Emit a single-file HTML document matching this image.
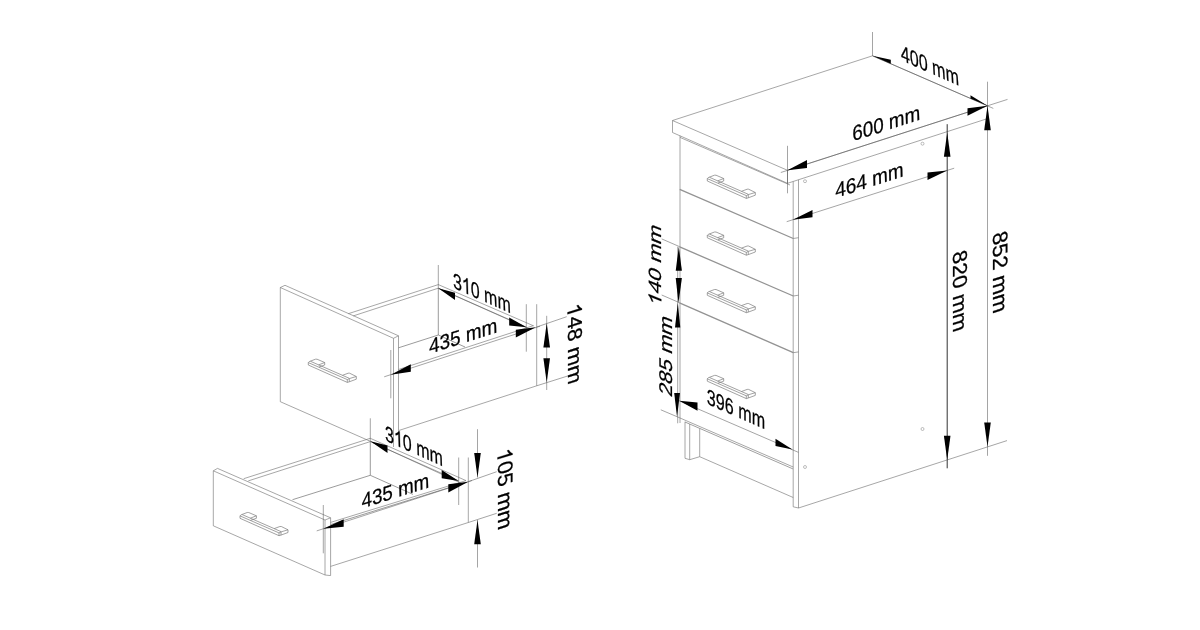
<!DOCTYPE html>
<html><head><meta charset="utf-8"><title>Dimensions</title>
<style>
html,body{margin:0;padding:0;background:#fff;}
body{width:1200px;height:630px;overflow:hidden;}
svg{display:block}
text{font-family:"Liberation Sans",sans-serif;fill:#000;stroke:#000;stroke-width:0.25px;white-space:pre;}
.g1{fill:#000;stroke:#000;stroke-width:25.6;}
</style></head><body>
<svg width="1200" height="630" viewBox="0 0 1200 630">
<rect width="1200" height="630" fill="#fff"/>
<g opacity="0.999">
<path d="M672.5 120.5 L787.5 170.3 L987.5 105.8 L872.5 55.8 Z" stroke="#707070" stroke-width="0.62" fill="none" stroke-linejoin="round"/>
<path d="M672.5 120.5 L672.5 132.5 L787.5 183.3 L787.5 170.3" stroke="#707070" stroke-width="0.62" fill="none" stroke-linejoin="round"/>
<path d="M787.5 183.3 L987.5 118.6" stroke="#707070" stroke-width="0.62" fill="none" stroke-linejoin="round"/>
<line x1="680.0" y1="135.7" x2="680.0" y2="423" stroke="#707070" stroke-width="0.62"/>
<line x1="680" y1="137.4" x2="790" y2="185" stroke="#707070" stroke-width="0.62"/>
<line x1="793.2" y1="181.5" x2="793.2" y2="506.8" stroke="#707070" stroke-width="0.62"/>
<line x1="798.5" y1="179.8" x2="798.5" y2="508" stroke="#707070" stroke-width="0.62"/>
<line x1="793.2" y1="506.8" x2="798.5" y2="508" stroke="#707070" stroke-width="0.62"/>
<line x1="798.5" y1="508" x2="987.5" y2="446.9" stroke="#707070" stroke-width="0.62"/>
<line x1="679.7" y1="189.4" x2="793.3" y2="238.5" stroke="#939393" stroke-width="1.35"/>
<line x1="793.3" y1="238.5" x2="798.5" y2="237.7" stroke="#707070" stroke-width="0.62"/>
<line x1="679.7" y1="246.9" x2="793.3" y2="296.0" stroke="#939393" stroke-width="1.35"/>
<line x1="793.3" y1="296.0" x2="798.5" y2="295.2" stroke="#707070" stroke-width="0.62"/>
<line x1="679.5" y1="302.9" x2="793.3" y2="352.7" stroke="#939393" stroke-width="1.35"/>
<line x1="793.3" y1="352.7" x2="798.5" y2="351.9" stroke="#707070" stroke-width="0.62"/>
<line x1="677" y1="416.7" x2="793.2" y2="467" stroke="#707070" stroke-width="0.62"/>
<line x1="685" y1="422.0" x2="793.2" y2="469.0" stroke="#a0a0a0" stroke-width="1.0"/>
<line x1="685" y1="421.7" x2="685" y2="458.3" stroke="#707070" stroke-width="0.62"/>
<line x1="689.7" y1="424" x2="689.7" y2="459.7" stroke="#707070" stroke-width="0.62"/>
<line x1="699.7" y1="428.5" x2="699.7" y2="456.7" stroke="#707070" stroke-width="0.62"/>
<path d="M685 458.3 L689.7 459.7 L699.7 456.7" stroke="#707070" stroke-width="0.62" fill="none" stroke-linejoin="round"/>
<line x1="699.7" y1="456.7" x2="793.2" y2="497.5" stroke="#707070" stroke-width="0.62"/>
<circle cx="805" cy="181.2" r="1.5" fill="none" stroke="#707070" stroke-width="0.45"/>
<circle cx="922.5" cy="143.7" r="1.5" fill="none" stroke="#707070" stroke-width="0.45"/>
<circle cx="805" cy="467" r="1.5" fill="none" stroke="#707070" stroke-width="0.45"/>
<circle cx="922.5" cy="429" r="1.5" fill="none" stroke="#707070" stroke-width="0.45"/>
<path d="M707.3 178.6 L746.3 195.6 L746.3 198.4 L707.3 181.0 Z" stroke="#7a7a7a" stroke-width="0.7" fill="none" stroke-linejoin="round"/>
<path d="M707.3 178.6 L708.2 177.6 L714.5 175.2 L716 175.2 L723.7 178.5 L723.7 181.0 L718 183.0" stroke="#7a7a7a" stroke-width="0.7" fill="none" stroke-linejoin="round"/>
<path d="M723.7 178.5 L717.6 180.9" stroke="#7a7a7a" stroke-width="0.7" fill="none" stroke-linejoin="round"/>
<path d="M709.5 177.3 L748.3 194.3" stroke="#7a7a7a" stroke-width="0.7" fill="none" stroke-linejoin="round"/>
<path d="M741.5 191.3 L747.2 189.2 L748.6 189.2 L755.3 192.5 L755.3 195.2 L748.3 197.8 L746.3 198.4" stroke="#7a7a7a" stroke-width="0.7" fill="none" stroke-linejoin="round"/>
<path d="M755.3 192.5 L748.3 194.6 L746.3 195.6" stroke="#7a7a7a" stroke-width="0.7" fill="none" stroke-linejoin="round"/>
<path d="M748.3 194.6 L748.3 197.8" stroke="#7a7a7a" stroke-width="0.7" fill="none" stroke-linejoin="round"/>
<path d="M707.3 235.4 L746.3 252.4 L746.3 255.2 L707.3 237.8 Z" stroke="#7a7a7a" stroke-width="0.7" fill="none" stroke-linejoin="round"/>
<path d="M707.3 235.4 L708.2 234.4 L714.5 232.0 L716 232.0 L723.7 235.3 L723.7 237.8 L718 239.8" stroke="#7a7a7a" stroke-width="0.7" fill="none" stroke-linejoin="round"/>
<path d="M723.7 235.3 L717.6 237.7" stroke="#7a7a7a" stroke-width="0.7" fill="none" stroke-linejoin="round"/>
<path d="M709.5 234.1 L748.3 251.1" stroke="#7a7a7a" stroke-width="0.7" fill="none" stroke-linejoin="round"/>
<path d="M741.5 248.1 L747.2 246.0 L748.6 246.0 L755.3 249.3 L755.3 252.0 L748.3 254.6 L746.3 255.2" stroke="#7a7a7a" stroke-width="0.7" fill="none" stroke-linejoin="round"/>
<path d="M755.3 249.3 L748.3 251.4 L746.3 252.4" stroke="#7a7a7a" stroke-width="0.7" fill="none" stroke-linejoin="round"/>
<path d="M748.3 251.4 L748.3 254.6" stroke="#7a7a7a" stroke-width="0.7" fill="none" stroke-linejoin="round"/>
<path d="M707.3 292.9 L746.3 309.9 L746.3 312.7 L707.3 295.3 Z" stroke="#7a7a7a" stroke-width="0.7" fill="none" stroke-linejoin="round"/>
<path d="M707.3 292.9 L708.2 291.9 L714.5 289.5 L716 289.5 L723.7 292.8 L723.7 295.3 L718 297.3" stroke="#7a7a7a" stroke-width="0.7" fill="none" stroke-linejoin="round"/>
<path d="M723.7 292.8 L717.6 295.2" stroke="#7a7a7a" stroke-width="0.7" fill="none" stroke-linejoin="round"/>
<path d="M709.5 291.6 L748.3 308.6" stroke="#7a7a7a" stroke-width="0.7" fill="none" stroke-linejoin="round"/>
<path d="M741.5 305.6 L747.2 303.5 L748.6 303.5 L755.3 306.8 L755.3 309.5 L748.3 312.1 L746.3 312.7" stroke="#7a7a7a" stroke-width="0.7" fill="none" stroke-linejoin="round"/>
<path d="M755.3 306.8 L748.3 308.9 L746.3 309.9" stroke="#7a7a7a" stroke-width="0.7" fill="none" stroke-linejoin="round"/>
<path d="M748.3 308.9 L748.3 312.1" stroke="#7a7a7a" stroke-width="0.7" fill="none" stroke-linejoin="round"/>
<path d="M707.3 378.8 L746.3 395.8 L746.3 398.6 L707.3 381.2 Z" stroke="#7a7a7a" stroke-width="0.7" fill="none" stroke-linejoin="round"/>
<path d="M707.3 378.8 L708.2 377.8 L714.5 375.4 L716 375.4 L723.7 378.7 L723.7 381.2 L718 383.2" stroke="#7a7a7a" stroke-width="0.7" fill="none" stroke-linejoin="round"/>
<path d="M723.7 378.7 L717.6 381.1" stroke="#7a7a7a" stroke-width="0.7" fill="none" stroke-linejoin="round"/>
<path d="M709.5 377.5 L748.3 394.5" stroke="#7a7a7a" stroke-width="0.7" fill="none" stroke-linejoin="round"/>
<path d="M741.5 391.5 L747.2 389.4 L748.6 389.4 L755.3 392.7 L755.3 395.4 L748.3 398.0 L746.3 398.6" stroke="#7a7a7a" stroke-width="0.7" fill="none" stroke-linejoin="round"/>
<path d="M755.3 392.7 L748.3 394.8 L746.3 395.8" stroke="#7a7a7a" stroke-width="0.7" fill="none" stroke-linejoin="round"/>
<path d="M748.3 394.8 L748.3 398.0" stroke="#7a7a7a" stroke-width="0.7" fill="none" stroke-linejoin="round"/>
<line x1="872.5" y1="32" x2="872.5" y2="55.8" stroke="#4a4a4a" stroke-width="0.5"/>
<line x1="872.5" y1="55.8" x2="993.3" y2="108.4" stroke="#4a4a4a" stroke-width="0.5"/>
<line x1="987.5" y1="81.7" x2="987.5" y2="455.8" stroke="#4a4a4a" stroke-width="0.5"/>
<line x1="987.5" y1="105.8" x2="1007.5" y2="99.4" stroke="#4a4a4a" stroke-width="0.5"/>
<line x1="780.8" y1="172.5" x2="987.5" y2="105.8" stroke="#4a4a4a" stroke-width="0.5"/>
<line x1="787.5" y1="145.8" x2="787.5" y2="193.3" stroke="#4a4a4a" stroke-width="0.5"/>
<line x1="786.7" y1="221.7" x2="954.2" y2="168.2" stroke="#4a4a4a" stroke-width="0.5"/>
<line x1="947.2" y1="124.2" x2="947.2" y2="468.3" stroke="#333" stroke-width="1.0"/>
<line x1="987.5" y1="446.9" x2="1007" y2="440.6" stroke="#4a4a4a" stroke-width="0.5"/>
<line x1="661.7" y1="238.9" x2="679.7" y2="246.7" stroke="#4a4a4a" stroke-width="0.5"/>
<line x1="661.7" y1="295.0" x2="679.5" y2="302.7" stroke="#4a4a4a" stroke-width="0.5"/>
<line x1="660.8" y1="409.8" x2="677" y2="416.7" stroke="#4a4a4a" stroke-width="0.5"/>
<line x1="677.7" y1="246.7" x2="677.7" y2="423.3" stroke="#4a4a4a" stroke-width="0.5"/>
<line x1="679.2" y1="400.8" x2="798.3" y2="452.3" stroke="#4a4a4a" stroke-width="0.5"/>
<path d="M872.5 55.8 L890.8 59.7 L890.8 63.8 Z" fill="#000" stroke="none"/>
<path d="M987.5 105.8 L970.5 95.2 L970.5 98.4 Z" fill="#000" stroke="none"/>
<path d="M987.5 105.8 L967.5 108.3 L967.5 115.8 Z" fill="#000" stroke="none"/>
<path d="M787.5 170.3 L807 160 L807 168 Z" fill="#000" stroke="none"/>
<path d="M792.8 219.7 L812.5 210 L812.5 217.2 Z" fill="#000" stroke="none"/>
<path d="M947.2 170.5 L927.5 172.5 L927.5 180 Z" fill="#000" stroke="none"/>
<path d="M987.5 105.8 L984.2 130.3 L990.8 130.3 Z" fill="#000" stroke="none"/>
<path d="M947.2 132.5 L943.9 156.7 L950.5 156.7 Z" fill="#000" stroke="none"/>
<path d="M947.2 460 L943.9 435.8 L950.5 435.8 Z" fill="#000" stroke="none"/>
<path d="M987.5 446.7 L984.2 422.5 L990.8 422.5 Z" fill="#000" stroke="none"/>
<path d="M678.8 246.7 L675.7 270.8 L681.9 270.8 Z" fill="#000" stroke="none"/>
<path d="M678.5 302.9 L675.7 278 L681.9 278 Z" fill="#000" stroke="none"/>
<path d="M677.8 302.9 L675 327.5 L680.3 327.5 Z" fill="#000" stroke="none"/>
<path d="M677 416.7 L674.2 393 L680 393 Z" fill="#000" stroke="none"/>
<path d="M679.2 400.8 L697.5 402.5 L697.5 410.8 Z" fill="#000" stroke="none"/>
<path d="M792.5 449.6 L775.5 438.7 L775.5 445.9 Z" fill="#000" stroke="none"/>
<g transform="matrix(0.8028 0.3549 0.0711 1.1167 901.30 60.30)"><text x="0.000" y="0" font-size="20" xml:space="preserve">400 mm</text></g>
<g transform="matrix(0.9387 -0.3020 0.0285 1.0527 852.55 141.34)"><text x="0.000" y="0" font-size="20" xml:space="preserve">600 mm</text></g>
<g transform="matrix(0.9448 -0.3017 0.0285 1.0527 835.42 198.02)"><text x="0.000" y="0" font-size="20" xml:space="preserve">464 mm</text></g>
<g transform="matrix(0.0000 1.1123 -1.0100 0.3201 953.30 253.02)"><text x="0.000" y="0" font-size="20" xml:space="preserve">820 mm</text></g>
<g transform="matrix(0.0000 1.1178 -1.0456 0.3272 993.30 233.94)"><text x="0.000" y="0" font-size="20" xml:space="preserve">852 mm</text></g>
<g transform="matrix(0.0000 -1.1155 0.8891 0.3557 661.30 307.50)"><path class="g1" transform="translate(0.000 0) scale(0.009765625 -0.009765625)" d="M763 0L583 0L583 1147Q518 1085 412.5 1023Q307 961 223 930L223 1104Q374 1175 487 1276Q600 1377 647 1472L763 1472Z"/><text x="11.123" y="0" font-size="20" xml:space="preserve">40 mm</text></g>
<g transform="matrix(0.0000 -1.0989 0.9176 0.3699 672.20 397.80)"><text x="0.000" y="0" font-size="20" xml:space="preserve">285 mm</text></g>
<g transform="matrix(0.8077 0.3547 -0.0000 1.1025 706.85 403.72)"><text x="0.000" y="0" font-size="20" xml:space="preserve">396 mm</text></g>
<path d="M280.3 287.5 L393.5 338.3 L393.5 447" stroke="#707070" stroke-width="0.62" fill="none" stroke-linejoin="round"/>
<path d="M280.3 287.5 L280.3 401.7 L370.3 441.3" stroke="#707070" stroke-width="0.62" fill="none" stroke-linejoin="round"/>
<path d="M280.3 287.5 L285 285.3 L398.5 335.8 L393.5 338.3" stroke="#707070" stroke-width="0.62" fill="none" stroke-linejoin="round"/>
<line x1="398.5" y1="335.8" x2="398.5" y2="430.6" stroke="#707070" stroke-width="0.62"/>
<line x1="348.3" y1="313.7" x2="438.3" y2="284.6" stroke="#707070" stroke-width="0.62"/>
<line x1="353.3" y1="315.9" x2="438.3" y2="288.2" stroke="#707070" stroke-width="0.62"/>
<line x1="438.3" y1="284.6" x2="533.5" y2="325.8" stroke="#707070" stroke-width="0.62"/>
<line x1="438.3" y1="288.2" x2="526.5" y2="327.2" stroke="#707070" stroke-width="0.62"/>
<line x1="438.3" y1="288.2" x2="438.3" y2="335" stroke="#707070" stroke-width="0.7"/>
<line x1="438.3" y1="335" x2="398.5" y2="347.8" stroke="#707070" stroke-width="0.7"/>
<line x1="438.3" y1="335" x2="465" y2="347" stroke="#707070" stroke-width="0.7"/>
<line x1="398.5" y1="369.5" x2="533.5" y2="325.6" stroke="#707070" stroke-width="0.62"/>
<line x1="398.5" y1="430.6" x2="536.7" y2="385.8" stroke="#707070" stroke-width="0.62"/>
<line x1="536.7" y1="327" x2="536.7" y2="385.8" stroke="#707070" stroke-width="0.62"/>
<line x1="438.3" y1="265" x2="438.3" y2="288.2" stroke="#4a4a4a" stroke-width="0.5"/>
<line x1="526.3" y1="304.2" x2="526.3" y2="351.7" stroke="#4a4a4a" stroke-width="0.5"/>
<line x1="536.7" y1="304.2" x2="536.7" y2="327" stroke="#4a4a4a" stroke-width="0.5"/>
<line x1="438.3" y1="288.3" x2="530" y2="329.2" stroke="#4a4a4a" stroke-width="0.5"/>
<line x1="384.2" y1="376.8" x2="540" y2="326.2" stroke="#4a4a4a" stroke-width="0.5"/>
<line x1="390.8" y1="350" x2="390.8" y2="398.3" stroke="#4a4a4a" stroke-width="0.5"/>
<line x1="546.7" y1="315.8" x2="546.7" y2="390" stroke="#4a4a4a" stroke-width="0.5"/>
<line x1="536.7" y1="327" x2="566.7" y2="316.7" stroke="#4a4a4a" stroke-width="0.5"/>
<line x1="536.7" y1="385.8" x2="568.3" y2="375.8" stroke="#4a4a4a" stroke-width="0.5"/>
<path d="M438.3 288.3 L455 292.7 L455 300 Z" fill="#000" stroke="none"/>
<path d="M526.5 327.2 L509.2 317.5 L509.2 325.4 Z" fill="#000" stroke="none"/>
<path d="M535.8 327.3 L515.8 329.8 L515.8 337.5 Z" fill="#000" stroke="none"/>
<path d="M390.8 374.7 L410.8 364.2 L410.8 371.7 Z" fill="#000" stroke="none"/>
<path d="M546.7 323.3 L543.4 347.5 L550 347.5 Z" fill="#000" stroke="none"/>
<path d="M546.7 382.5 L543.4 358.3 L550 358.3 Z" fill="#000" stroke="none"/>
<g transform="matrix(0.7990 0.3580 0.0356 1.1025 453.27 287.69)"><text x="0.000" y="0" font-size="20" xml:space="preserve">3</text><path class="g1" transform="translate(11.123 0) scale(0.009765625 -0.009765625)" d="M763 0L583 0L583 1147Q518 1085 412.5 1023Q307 961 223 930L223 1104Q374 1175 487 1276Q600 1377 647 1472L763 1472Z"/><text x="22.246" y="0" font-size="20" xml:space="preserve">0 mm</text></g>
<g transform="matrix(0.9441 -0.3003 0.0285 1.0527 429.22 353.92)"><text x="0.000" y="0" font-size="20" xml:space="preserve">435 mm</text></g>
<g transform="matrix(0.0000 1.1000 -1.0100 0.3201 567.50 306.10)"><path class="g1" transform="translate(0.000 0) scale(0.009765625 -0.009765625)" d="M763 0L583 0L583 1147Q518 1085 412.5 1023Q307 961 223 930L223 1104Q374 1175 487 1276Q600 1377 647 1472L763 1472Z"/><text x="11.123" y="0" font-size="20" xml:space="preserve">48 mm</text></g>
<path d="M308.3 362.6 L347.3 379.6 L347.3 382.4 L308.3 365.0 Z" stroke="#7a7a7a" stroke-width="0.7" fill="none" stroke-linejoin="round"/>
<path d="M308.3 362.6 L309.2 361.6 L315.5 359.2 L317.0 359.2 L324.7 362.5 L324.7 365.0 L319.0 367.0" stroke="#7a7a7a" stroke-width="0.7" fill="none" stroke-linejoin="round"/>
<path d="M324.7 362.5 L318.6 364.9" stroke="#7a7a7a" stroke-width="0.7" fill="none" stroke-linejoin="round"/>
<path d="M310.5 361.3 L349.3 378.3" stroke="#7a7a7a" stroke-width="0.7" fill="none" stroke-linejoin="round"/>
<path d="M342.5 375.3 L348.2 373.2 L349.6 373.2 L356.3 376.5 L356.3 379.2 L349.3 381.8 L347.3 382.4" stroke="#7a7a7a" stroke-width="0.7" fill="none" stroke-linejoin="round"/>
<path d="M356.3 376.5 L349.3 378.6 L347.3 379.6" stroke="#7a7a7a" stroke-width="0.7" fill="none" stroke-linejoin="round"/>
<path d="M349.3 378.6 L349.3 381.8" stroke="#7a7a7a" stroke-width="0.7" fill="none" stroke-linejoin="round"/>
<path d="M213.3 470.8 L325 520 L325 575 L213.3 525.8 Z" stroke="#707070" stroke-width="0.62" fill="none" stroke-linejoin="round"/>
<path d="M213.3 470.8 L217.5 468.4 L330.6 517.8 L325 520" stroke="#707070" stroke-width="0.62" fill="none" stroke-linejoin="round"/>
<path d="M330.6 517.8 L330.6 575.6 L325 575" stroke="#707070" stroke-width="0.62" fill="none" stroke-linejoin="round"/>
<line x1="243.7" y1="478.7" x2="370.3" y2="438.3" stroke="#707070" stroke-width="0.62"/>
<line x1="248.3" y1="480.9" x2="370.3" y2="441.6" stroke="#707070" stroke-width="0.62"/>
<line x1="370.3" y1="438.3" x2="466" y2="480.6" stroke="#707070" stroke-width="0.62"/>
<line x1="370.3" y1="441.6" x2="458.7" y2="480.9" stroke="#707070" stroke-width="0.62"/>
<line x1="370.3" y1="441.6" x2="370.3" y2="475.3" stroke="#707070" stroke-width="0.7"/>
<line x1="370.3" y1="475.3" x2="292.5" y2="499.7" stroke="#707070" stroke-width="0.7"/>
<line x1="370.3" y1="475.3" x2="413" y2="494.4" stroke="#707070" stroke-width="0.7"/>
<line x1="330.6" y1="522.4" x2="466" y2="480.6" stroke="#707070" stroke-width="0.62"/>
<line x1="330.6" y1="524.6" x2="462" y2="483.6" stroke="#707070" stroke-width="0.7"/>
<line x1="330.6" y1="566.4" x2="468.3" y2="522.5" stroke="#707070" stroke-width="0.62"/>
<line x1="468.3" y1="481.7" x2="468.3" y2="522.5" stroke="#707070" stroke-width="0.62"/>
<line x1="370.3" y1="418.3" x2="370.3" y2="441.6" stroke="#4a4a4a" stroke-width="0.5"/>
<line x1="458.7" y1="457.5" x2="458.7" y2="505" stroke="#4a4a4a" stroke-width="0.5"/>
<line x1="468.3" y1="457.5" x2="468.3" y2="481.7" stroke="#4a4a4a" stroke-width="0.5"/>
<line x1="370.3" y1="441.3" x2="462" y2="483.6" stroke="#4a4a4a" stroke-width="0.5"/>
<line x1="316.7" y1="530.9" x2="472" y2="480.5" stroke="#4a4a4a" stroke-width="0.5"/>
<line x1="323.3" y1="505" x2="323.3" y2="553.3" stroke="#4a4a4a" stroke-width="0.5"/>
<line x1="477.5" y1="429.2" x2="477.5" y2="477.5" stroke="#4a4a4a" stroke-width="0.5"/>
<line x1="477.5" y1="520" x2="477.5" y2="567.5" stroke="#4a4a4a" stroke-width="0.5"/>
<line x1="468.3" y1="481.7" x2="496.7" y2="471.7" stroke="#4a4a4a" stroke-width="0.5"/>
<line x1="468.3" y1="522.5" x2="496.7" y2="513.3" stroke="#4a4a4a" stroke-width="0.5"/>
<path d="M370.4 441.3 L387.5 445.6 L387.5 453 Z" fill="#000" stroke="none"/>
<path d="M458.7 480.9 L441.7 470 L441.7 478.2 Z" fill="#000" stroke="none"/>
<path d="M468.3 481.7 L448.3 484.3 L448.3 492.4 Z" fill="#000" stroke="none"/>
<path d="M323.3 528.8 L343.7 519.2 L343.7 526.7 Z" fill="#000" stroke="none"/>
<path d="M477.5 477.5 L474.2 453 L480.8 453 Z" fill="#000" stroke="none"/>
<path d="M477.5 520 L474.2 544.2 L480.8 544.2 Z" fill="#000" stroke="none"/>
<g transform="matrix(0.7997 0.3580 0.0356 1.1025 385.32 440.59)"><text x="0.000" y="0" font-size="20" xml:space="preserve">3</text><path class="g1" transform="translate(11.123 0) scale(0.009765625 -0.009765625)" d="M763 0L583 0L583 1147Q518 1085 412.5 1023Q307 961 223 930L223 1104Q374 1175 487 1276Q600 1377 647 1472L763 1472Z"/><text x="22.246" y="0" font-size="20" xml:space="preserve">0 mm</text></g>
<g transform="matrix(0.9377 -0.2960 0.0285 1.0527 361.72 508.62)"><text x="0.000" y="0" font-size="20" xml:space="preserve">435 mm</text></g>
<g transform="matrix(0.0000 1.1069 -1.0527 0.3272 497.50 451.11)"><path class="g1" transform="translate(0.000 0) scale(0.009765625 -0.009765625)" d="M763 0L583 0L583 1147Q518 1085 412.5 1023Q307 961 223 930L223 1104Q374 1175 487 1276Q600 1377 647 1472L763 1472Z"/><text x="11.123" y="0" font-size="20" xml:space="preserve">05 mm</text></g>
<path d="M240.0 515.9 L279.0 532.9 L279.0 535.7 L240.0 518.3 Z" stroke="#7a7a7a" stroke-width="0.7" fill="none" stroke-linejoin="round"/>
<path d="M240.0 515.9 L240.9 514.9 L247.2 512.5 L248.7 512.5 L256.4 515.8 L256.4 518.3 L250.7 520.3" stroke="#7a7a7a" stroke-width="0.7" fill="none" stroke-linejoin="round"/>
<path d="M256.4 515.8 L250.3 518.2" stroke="#7a7a7a" stroke-width="0.7" fill="none" stroke-linejoin="round"/>
<path d="M242.2 514.6 L281.0 531.6" stroke="#7a7a7a" stroke-width="0.7" fill="none" stroke-linejoin="round"/>
<path d="M274.2 528.6 L279.9 526.5 L281.3 526.5 L288.0 529.8 L288.0 532.5 L281.0 535.1 L279.0 535.7" stroke="#7a7a7a" stroke-width="0.7" fill="none" stroke-linejoin="round"/>
<path d="M288.0 529.8 L281.0 531.9 L279.0 532.9" stroke="#7a7a7a" stroke-width="0.7" fill="none" stroke-linejoin="round"/>
<path d="M281.0 531.9 L281.0 535.1" stroke="#7a7a7a" stroke-width="0.7" fill="none" stroke-linejoin="round"/>
</g>
</svg>
</body></html>
